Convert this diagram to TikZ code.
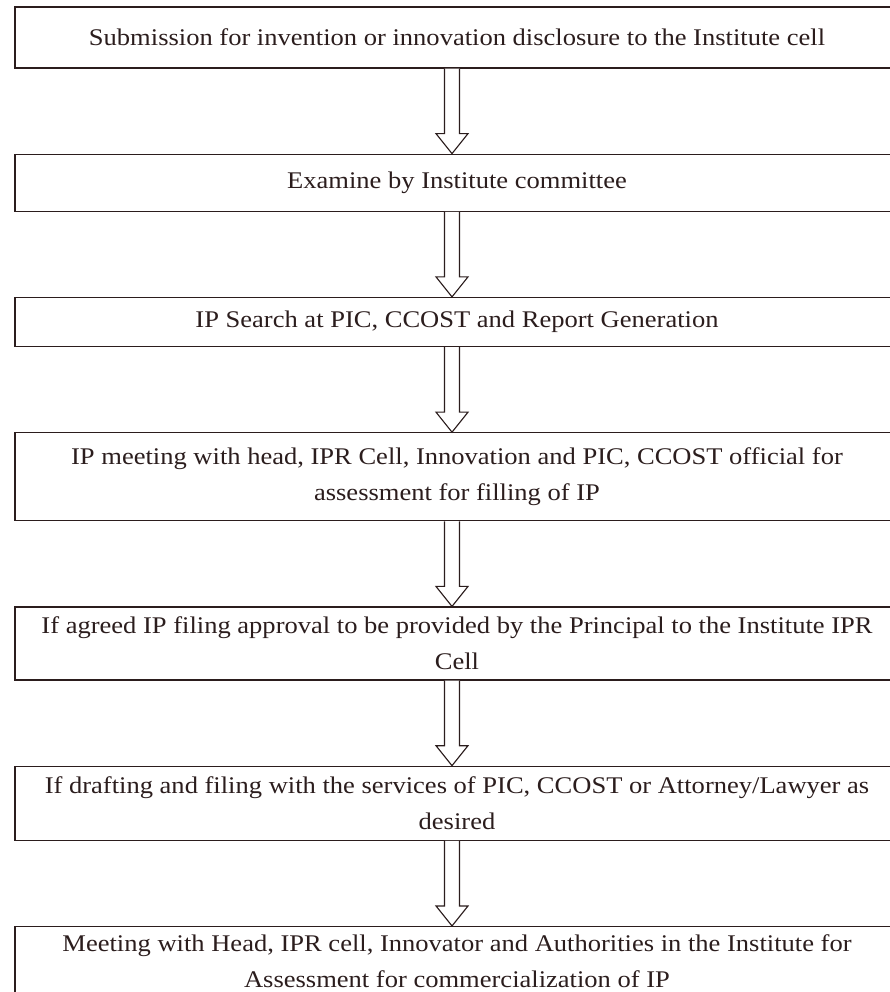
\documentclass[tikz,border=0pt]{standalone}
\usepackage{fontspec}
\setmainfont{Liberation Serif}[FakeStretch=1.11]
\usetikzlibrary{positioning,calc}
\definecolor{ink}{HTML}{2B1D1D}
\tikzset{
  stage/.style={draw=ink, rectangle, minimum width=22.1cm, align=center, text=ink,
    font=\fontsize{17}{25.6}\selectfont, line width=0.9pt},
  blockarr/.style={draw=ink, line width=0.8pt, fill=white,
    to path={let \p1=(\tikztostart), \p2=(\tikztotarget) in
      (\x1-0.1875cm,\y1) -- (\x1-0.1875cm,\y2+0.5cm) -- (\x1-0.4cm,\y2+0.5cm)
      -- (\x1,\y2) -- (\x1+0.4cm,\y2+0.5cm) -- (\x1+0.1875cm,\y2+0.5cm) -- (\x1+0.1875cm,\y1)}},
}

\begin{document}
\begin{tikzpicture}[node distance=2.125cm]
\useasboundingbox (0,0) rectangle (22.225,-24.8);

\node[stage, minimum height=1.525cm] (sub) at (11.425,-0.9375)
  {Submission for invention or innovation disclosure to the Institute cell};

\node[stage, minimum height=1.425cm, below=of sub] (exam) {Examine by Institute committee};

\node[stage, minimum height=1.225cm, below=of exam] (search) {IP Search at PIC, CCOST and Report Generation};

\node[stage, minimum height=2.2cm, below=of search] (meet)
  {IP meeting with head, IPR Cell, Innovation and PIC, CCOST official for\\assessment for filling of IP};

\node[stage, minimum height=1.825cm, below=of meet] (approve)
  {If agreed IP filing approval to be provided by the Principal to the Institute IPR\\Cell};

\node[stage, minimum height=1.85cm, below=of approve] (draft)
  {If drafting and filing with the services of PIC, CCOST or Attorney/Lawyer as\\desired};

\node[stage, minimum height=1.75cm, below=of draft] (comm)
  {Meeting with Head, IPR cell, Innovator and Authorities in the Institute for\\Assessment for commercialization of IP};

% hollow arrows down the middle
\coordinate (col) at (11.3,0);
\draw[blockarr] (sub.south -| col) to (exam.north -| col);
\draw[blockarr] (exam.south -| col) to (search.north -| col);
\draw[blockarr] (search.south -| col) to (meet.north -| col);
\draw[blockarr] (meet.south -| col) to (approve.north -| col);
\draw[blockarr] (approve.south -| col) to (draft.north -| col);
\draw[blockarr] (draft.south -| col) to (comm.north -| col);

\end{tikzpicture}
\end{document}
